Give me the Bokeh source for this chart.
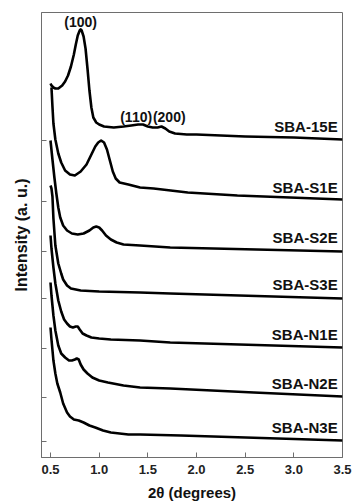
from bokeh.plotting import figure
from bokeh.models import Range1d, FixedTicker, CustomJSTickFormatter
from bokeh.core.properties import value
from bokeh.embed import file_html
from bokeh.resources import INLINE

# ---------------- data ----------------
names = ["SBA-15E", "SBA-S1E", "SBA-S2E", "SBA-S3E", "SBA-N1E", "SBA-N2E", "SBA-N3E"]
# vertical offset (baseline) of every pattern, arbitrary units
offsets = [317, 256, 206, 159, 109, 60, 16]

x_15E = [0.50, 0.51, 0.53, 0.55, 0.58, 0.62, 0.65, 0.68, 0.71, 0.74, 0.76, 0.78, 0.80, 0.81, 0.82,
         0.84, 0.86, 0.88, 0.90, 0.92, 0.94, 0.97, 1.00, 1.05, 1.15, 1.25, 1.33, 1.40, 1.45,
         1.50, 1.55, 1.60, 1.64, 1.68, 1.72, 1.78, 1.90, 2.00, 2.50, 3.00, 3.50]
i_15E = [57, 55, 53, 52, 52, 55, 59, 65, 74, 86, 96, 105, 110, 111, 110,
         104, 92, 72, 50, 33, 23, 18, 16, 14, 13, 14, 15, 16, 16,
         14, 13, 13, 14, 12, 9, 7, 6, 6, 4, 3, 1]

x_S1E = [0.51, 0.52, 0.53, 0.55, 0.58, 0.61, 0.65, 0.70, 0.75, 0.81, 0.87, 0.92, 0.96, 0.99,
         1.02, 1.05, 1.08, 1.11, 1.14, 1.17, 1.21, 1.30, 1.42, 1.56, 1.91, 2.42, 3.50]
i_S1E = [114, 95, 78, 62, 48, 39, 31, 27, 26, 30, 37, 47, 55, 59,
         61, 59, 52, 41, 30, 23, 19, 17, 14, 13, 9, 6, 2]

x_S2E = [0.50, 0.52, 0.54, 0.56, 0.58, 0.60, 0.63, 0.67, 0.72, 0.78, 0.84, 0.90, 0.94, 0.97,
         1.00, 1.03, 1.07, 1.12, 1.18, 1.25, 1.42, 1.73, 3.50]
i_S2E = [111, 92, 74, 58, 44, 34, 26, 21, 18, 17, 18, 21, 24, 25,
         24, 21, 16, 12, 9, 7, 6, 4, 0]

x_S3E = [0.50, 0.51, 0.52, 0.53, 0.55, 0.58, 0.61, 0.63, 0.67, 0.71, 0.81, 1.00, 1.42, 1.73, 3.50]
i_S3E = [113, 110, 102, 80, 53, 35, 25, 19, 13, 10, 8, 7, 6, 5, 0]

x_N1E = [0.50, 0.51, 0.53, 0.55, 0.58, 0.61, 0.64, 0.67, 0.70, 0.73, 0.76, 0.78, 0.80, 0.83,
         0.87, 0.92, 1.00, 1.12, 1.42, 1.73, 3.50]
i_N1E = [113, 100, 81, 65, 48, 37, 29, 25, 22, 21, 22, 22, 19, 15,
         13, 11, 10, 9, 8, 6, 1]

x_N2E = [0.50, 0.51, 0.53, 0.55, 0.58, 0.61, 0.65, 0.69, 0.72, 0.75, 0.77, 0.79, 0.81, 0.84,
         0.88, 0.93, 1.00, 1.09, 1.25, 1.42, 1.73, 2.59, 3.50]
i_N2E = [115, 102, 82, 67, 52, 44, 40, 37, 37, 38, 39, 38, 33, 28,
         24, 20, 17, 15, 12, 10, 9, 5, 1]

x_N3E = [0.50, 0.51, 0.53, 0.55, 0.57, 0.60, 0.63, 0.67, 0.70, 0.74, 0.79, 0.84, 0.90, 0.96,
         1.04, 1.12, 1.30, 1.42, 1.84, 3.50]
i_N3E = [114, 102, 81, 68, 58, 49, 38, 29, 25, 22, 21, 19, 16, 14,
         11, 9, 7, 7, 6, 1]

xs = [x_15E, x_S1E, x_S2E, x_S3E, x_N1E, x_N2E, x_N3E]
ints = [i_15E, i_S1E, i_S2E, i_S3E, i_N1E, i_N2E, i_N3E]

peak_labels = ["(100)", "(110)", "(200)"]
peak_x = [0.81, 1.38, 1.72]
peak_y = [428, 333, 333]

x_ticks = [0.5, 1.0, 1.5, 2.0, 2.5, 3.0, 3.5]

# ---------------- figure ----------------
FONT = "Liberation Sans"
p = figure(width=352, height=503, output_backend="svg", toolbar_location=None,
           x_range=Range1d(0.4075, 3.5), y_range=Range1d(0, 445),
           min_border_left=41, min_border_right=10, min_border_top=12, min_border_bottom=46)
p.grid.visible = False
p.background_fill_color = "white"
p.border_fill_color = "white"
p.outline_line_color = "#6e6e6e"
p.outline_line_width = 1

for x, iv, off in zip(xs, ints, offsets):
    p.line(x, [v + off for v in iv], line_color="black", line_width=2.6, line_join="round")

p.text(x=[3.45] * len(names), y=[o + 14 for o in offsets], text=names,
       text_font=value(FONT), text_font_style="bold", text_font_size="15px",
       text_align="right", text_baseline="middle", text_color="#111111")

p.text(x=peak_x, y=peak_y, text=peak_labels,
       text_font=value(FONT), text_font_style="bold", text_font_size="14px",
       text_align="center", text_baseline="bottom", text_color="#111111")

# x axis
xa = p.xaxis[0]
xa.ticker = FixedTicker(ticks=x_ticks)
xa.formatter = CustomJSTickFormatter(code="return tick.toFixed(1);")
xa.axis_label = "2θ (degrees)"
xa.axis_label_text_font = FONT
xa.axis_label_text_font_style = "bold"
xa.axis_label_text_font_size = "15px"
xa.axis_label_text_color = "#111111"
xa.axis_label_standoff = 7
xa.major_label_text_font = FONT
xa.major_label_text_font_style = "bold"
xa.major_label_text_font_size = "13px"
xa.major_label_text_color = "#222222"
xa.major_label_standoff = 7
xa.major_tick_in = 5
xa.major_tick_out = 0
xa.minor_tick_in = 0
xa.minor_tick_out = 0
xa.axis_line_color = "#6e6e6e"
xa.major_tick_line_color = "#6e6e6e"

# y axis
ya = p.yaxis[0]
ya.ticker = FixedTicker(ticks=offsets)
ya.formatter = CustomJSTickFormatter(code="return '';")
ya.major_label_text_font_size = "0px"
ya.major_label_standoff = 0
ya.axis_label = "Intensity (a. u.)"
ya.axis_label_text_font = FONT
ya.axis_label_text_font_style = "bold"
ya.axis_label_text_font_size = "16px"
ya.axis_label_text_color = "#111111"
ya.axis_label_standoff = 12
ya.major_tick_in = 5
ya.major_tick_out = 0
ya.minor_tick_in = 0
ya.minor_tick_out = 0
ya.axis_line_color = "#6e6e6e"
ya.major_tick_line_color = "#6e6e6e"

open("out.html", "w").write(file_html(p, INLINE))
